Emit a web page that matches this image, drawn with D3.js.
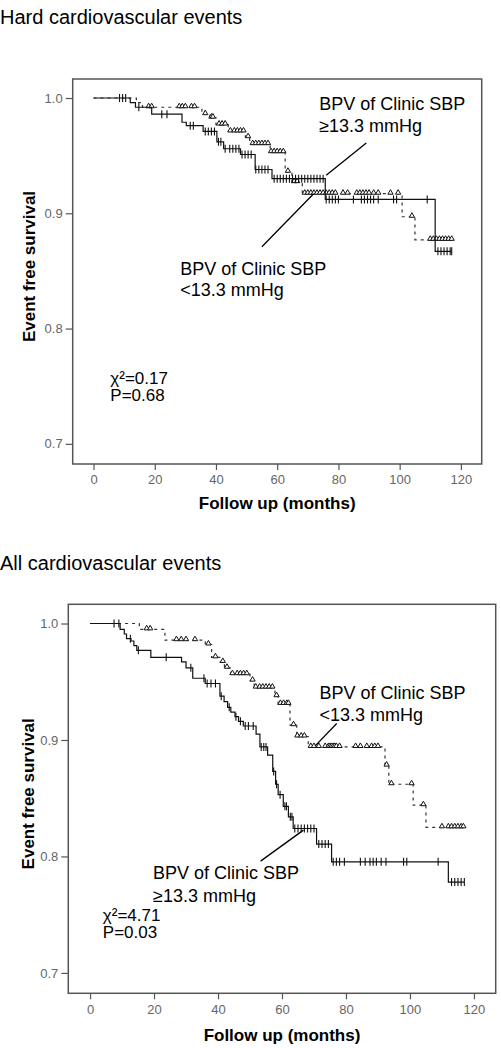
<!DOCTYPE html>
<html>
<head>
<meta charset="utf-8">
<script src="https://cdn.jsdelivr.net/npm/d3@7"></script>
<style>
  html, body { margin: 0; padding: 0; background: #fff; }
  svg { display: block; font-family: "Liberation Sans", Arial, sans-serif; }
</style>
</head>
<body>
<svg id="chart" width="501" height="1048"></svg>
<script>
// ---------------- DATA ----------------
const xTicks = [0, 20, 40, 60, 80, 100, 120];
const yTicks = [0.7, 0.8, 0.9, 1.0];
const panelTitles = ["Hard cardiovascular events", "All cardiovascular events"];
const xAxisTitle = "Follow up (months)";
const yAxisTitle = "Event free survival";
const groupLabelHigh = ["BPV of Clinic SBP", "\u226513.3 mmHg"];
const groupLabelLow = ["BPV of Clinic SBP", "<13.3 mmHg"];
const statsHard = ["\u03c7\u00b2=0.17", "P=0.68"];
const statsAll = ["\u03c7\u00b2=4.71", "P=0.03"];

// Hard CV events, BPV >= 13.3 (solid, + censors)
const hardHighTimes = [12, 13.7, 19, 28.9, 30.3, 35.8, 40.3, 42.5, 48, 52.8, 58.3, 75.7, 111.6];
const hardHighSurv  = [0.996, 0.992, 0.986, 0.979, 0.976, 0.971, 0.962, 0.956, 0.951, 0.938, 0.930, 0.912, 0.867];
const hardHighCens  = [8.5, 9.5, 10.5, 14.8, 22.3, 24, 31.6, 32.6, 36.5, 37.5, 38.5, 39.5, 40.8, 41.6,
  43, 44.5, 45.5, 46.5, 47.5, 48.5, 49.5, 50.5, 51.5, 53, 54, 55, 56, 57,
  59, 60, 61, 62, 63, 64, 65, 66, 67, 68, 69, 70, 71, 72, 73, 74, 75,
  76, 77, 78, 79, 80, 84.9, 87.5, 88.5, 89.5, 90.5, 91.5, 93, 98, 99, 109,
  112.5, 113.5, 114.5, 115.5, 116.5, 117];

// Hard CV events, BPV < 13.3 (dashed, triangle censors)
const hardLowTimes = [14, 16, 35.4, 38, 40, 44, 49.6, 51, 57.7, 62.6, 64.8, 68.2, 100.8, 105];
const hardLowSurv  = [0.996, 0.992, 0.986, 0.983, 0.977, 0.971, 0.966, 0.960, 0.953, 0.936, 0.927, 0.917, 0.897, 0.877];
const hardLowCens  = [18, 19, 28, 29, 30, 32, 33, 36.5, 38.5, 39, 41, 42, 43, 44.7, 46, 47, 48, 49,
  50.5, 52, 53, 54, 55, 56, 57, 58, 59, 60, 61, 62, 63.5, 65.5, 66.5,
  69, 70, 71, 72, 73, 74, 75, 76, 77, 78, 79, 81.5, 83, 86, 87, 88, 89, 90, 91.5, 93,
  97, 99.5, 104, 110, 111, 112, 113, 114, 115, 116, 117];

// All CV events, BPV >= 13.3 (solid, + censors)
const allHighTimes = [9.4, 10.7, 11.4, 12.8, 13.7, 14.6, 19, 28.6, 30, 32.1, 36, 40.6, 41.9, 43, 44, 45.3,
  46.4, 47.9, 51.9, 53.1, 55.5, 57.1, 58, 58.8, 60.4, 62, 63.5, 70.8, 75.5, 112];
const allHighSurv  = [0.995, 0.991, 0.987, 0.985, 0.981, 0.977, 0.971, 0.967, 0.962, 0.953, 0.9485, 0.9376,
  0.933, 0.928, 0.924, 0.920, 0.916, 0.912, 0.905, 0.894, 0.887, 0.873, 0.862, 0.853, 0.843, 0.834,
  0.824, 0.8106, 0.7954, 0.778];
const allHighCens  = [7.5, 9, 12.6, 15.1, 23.8, 31.5, 35.6, 36.6, 37.8, 39.2, 41, 43.5, 45.6, 47,
  48.5, 49.5, 51, 53.5, 54.3, 55, 57.4, 58.3, 59.4, 60.9, 61.4, 62.6, 63.1,
  64, 65, 66, 67, 68, 69, 70, 71.5, 72.5, 73.5, 74.5, 76, 77, 78, 79.5,
  84.5, 86, 87.5, 88.5, 89.5, 91, 92.5, 98, 99, 108.8, 113, 114, 115, 116, 117];

// All CV events, BPV < 13.3 (dashed, triangle censors)
const allLowTimes = [15.4, 23.4, 36, 38, 40.6, 42, 44, 50, 51.3, 57.8, 58.8, 62.5, 64.6, 68.2, 92.2, 93.4, 101, 105];
const allLowSurv  = [0.995, 0.9857, 0.982, 0.971, 0.967, 0.962, 0.9565, 0.951, 0.945, 0.9376, 0.931,
  0.9127, 0.903, 0.894, 0.878, 0.862, 0.844, 0.825];
const allLowCens  = [17.7, 18.8, 27, 28.5, 30, 32.8, 37, 39.2, 41.5, 42.8, 44.5, 46, 47, 48, 49, 50.8,
  51.8, 53, 54, 55, 56, 57, 58.3, 59.5, 60.5, 61.5, 62, 63.6, 64.8, 66, 67,
  69, 70, 71.5, 73.5, 74.5, 75, 75.5, 76, 76.5, 77, 78, 83, 84.5, 86.5, 88, 89, 90,
  92.7, 94.2, 100.5, 104.2, 110, 112, 113, 114, 115, 116, 116.7];

// ---------------- DRAWING ----------------
const svg = d3.select("#chart");
const FONT = '"Liberation Sans", Arial, sans-serif';

function stepValue(times, surv, t) {
  let s = 1;
  for (let i = 0; i < times.length; i++) { if (times[i] <= t) s = surv[i]; }
  return s;
}

function drawPanel(p) {
  const g = svg.append("g");
  const x = d3.scaleLinear().domain([-6.8, 126.8]).range([p.left, p.right]);
  const y = d3.scaleLinear().domain([0.6825, 1.0165]).range([p.bottom, p.top]);

  // title
  g.append("text").attr("x", 0).attr("y", p.titleY)
    .attr("font-size", 20).attr("fill", "#000").text(p.title);

  // y axis
  const ya = g.append("g").attr("transform", `translate(${p.left},0)`)
    .call(d3.axisLeft(y).tickValues(yTicks).tickFormat(d3.format(".1f")).tickSize(7).tickPadding(3));
  ya.select(".domain").remove();
  ya.selectAll("line").attr("stroke", "#555").attr("stroke-width", 1.2);
  ya.selectAll("text").attr("font-size", 13).attr("fill", "#666").attr("font-family", FONT);

  // x axis
  const xa = g.append("g").attr("transform", `translate(0,${p.bottom})`)
    .call(d3.axisBottom(x).tickValues(xTicks).tickFormat(d3.format("d")).tickSize(6).tickPadding(5));
  xa.select(".domain").remove();
  xa.selectAll("line").attr("stroke", "#555").attr("stroke-width", 1.2);
  xa.selectAll("text").attr("font-size", 13).attr("fill", "#666").attr("font-family", FONT);

  // frame
  g.append("rect").attr("x", p.left).attr("y", p.top)
    .attr("width", p.right - p.left).attr("height", p.bottom - p.top)
    .attr("fill", "none").attr("stroke", "#555").attr("stroke-width", 1.5);

  // axis titles
  g.append("text").attr("x", (p.left + p.right) / 2).attr("y", p.xTitleY)
    .attr("text-anchor", "middle").attr("font-size", 17).attr("font-weight", "bold")
    .text(xAxisTitle);
  g.append("text")
    .attr("transform", `translate(${p.yTitleX},${(p.top + p.bottom) / 2 - 5}) rotate(-90)`)
    .attr("text-anchor", "middle").attr("font-size", 17).attr("font-weight", "bold")
    .text(yAxisTitle);

  const line = d3.line().x(d => x(d[0])).y(d => y(d[1])).curve(d3.curveStepAfter);

  function curve(times, surv, cens, dashed) {
    const tEnd = d3.max(cens.concat(times));
    const pts = [[0, 1]].concat(times.map((t, i) => [t, surv[i]]));
    pts.push([tEnd, surv[surv.length - 1]]);
    g.append("path").attr("d", line(pts)).attr("fill", "none")
      .attr("stroke", dashed ? "#333" : "#111").attr("stroke-width", 1.2)
      .attr("stroke-dasharray", dashed ? "3,4" : null);
    if (dashed) {
      g.selectAll(null).data(cens).enter().append("path")
        .attr("transform", d => `translate(${x(d)},${y(stepValue(times, surv, d)) - 1})`)
        .attr("d", d3.symbol(d3.symbolTriangle, 12)())
        .attr("fill", "#fff").attr("stroke", "#111").attr("stroke-width", 1);
    } else {
      g.selectAll(null).data(cens).enter().append("line")
        .attr("x1", d => x(d)).attr("x2", d => x(d))
        .attr("y1", d => y(stepValue(times, surv, d)) - 4)
        .attr("y2", d => y(stepValue(times, surv, d)) + 4)
        .attr("stroke", "#111").attr("stroke-width", 1.1);
    }
  }
  curve(p.lowT, p.lowS, p.lowC, true);
  curve(p.highT, p.highS, p.highC, false);

  // annotations (positions in data coordinates)
  p.notes.forEach(n => {
    if (n.line) {
      g.append("line").attr("x1", x(n.line[0])).attr("y1", y(n.line[1]))
        .attr("x2", x(n.line[2])).attr("y2", y(n.line[3]))
        .attr("stroke", "#000").attr("stroke-width", 1.3);
    }
    n.text.forEach((s, i) => {
      g.append("text").attr("x", x(n.at[0])).attr("y", y(n.at[1]) + i * n.dy)
        .attr("font-size", n.size).attr("fill", "#000").text(s);
    });
  });
}

drawPanel({
  title: panelTitles[0], titleY: 24,
  left: 72.7, right: 481.7, top: 79, bottom: 464,
  xTitleY: 509, yTitleX: 35,
  highT: hardHighTimes, highS: hardHighSurv, highC: hardHighCens,
  lowT: hardLowTimes, lowS: hardLowSurv, lowC: hardLowCens,
  notes: [
    { text: groupLabelHigh, at: [73.7, 0.9896], dy: 22, size: 18, line: [89.1, 0.961, 76.0, 0.933] },
    { text: groupLabelLow, at: [28.3, 0.8465], dy: 21, size: 18, line: [55, 0.871, 71.9, 0.917] },
    { text: statsHard, at: [5.5, 0.7515], dy: 17, size: 17, line: null }
  ]
});

drawPanel({
  title: panelTitles[1], titleY: 570,
  left: 68.3, right: 495.7, top: 604.3, bottom: 993.3,
  xTitleY: 1041, yTitleX: 34,
  highT: allHighTimes, highS: allHighSurv, highC: allHighCens,
  lowT: allLowTimes, lowS: allLowSurv, lowC: allLowCens,
  notes: [
    { text: groupLabelLow, at: [71.7, 0.9348], dy: 22, size: 18, line: [77.1, 0.9142, 70.3, 0.8947] },
    { text: groupLabelHigh, at: [19.7, 0.781], dy: 23, size: 18, line: [66.7, 0.8226, 53.3, 0.796] },
    { text: statsAll, at: [4, 0.7445], dy: 17, size: 17, line: null }
  ]
});
</script>
</body>
</html>
